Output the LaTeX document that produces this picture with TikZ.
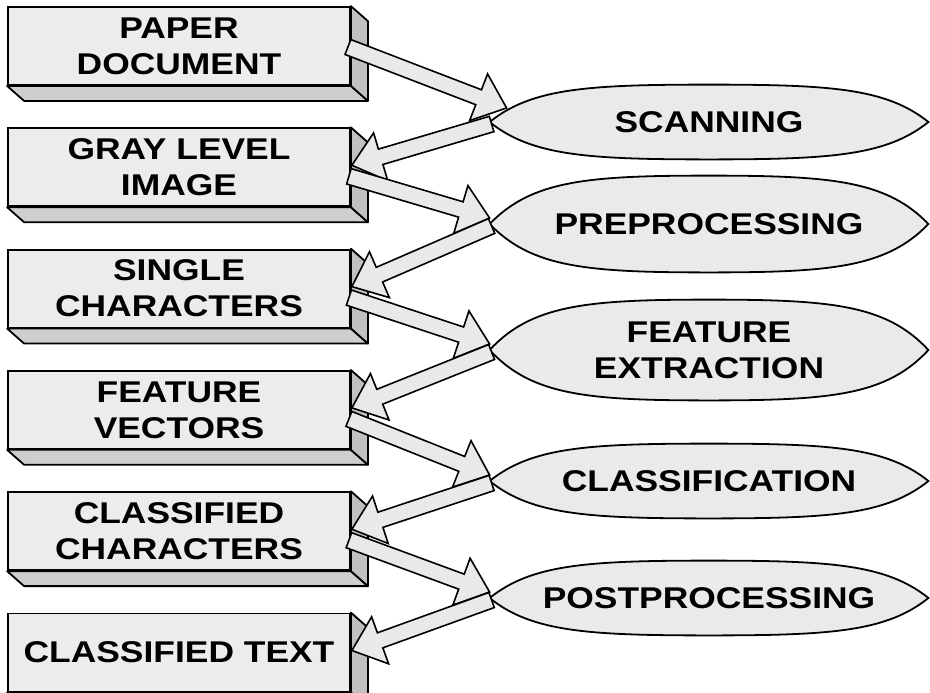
\documentclass[tikz,border=0pt]{standalone}
\usepackage{fontspec}
\newfontfamily\chartfont{Liberation Sans}[FakeStretch=1.18]
\usetikzlibrary{positioning,calc,backgrounds}
\definecolor{facelight}{RGB}{236,236,236}
\definecolor{facemid}  {RGB}{206,206,206}
\definecolor{facedark} {RGB}{192,192,192}
\definecolor{lensgray} {RGB}{234,234,234}
\definecolor{flowgray} {RGB}{233,233,233}

% hollow block arrow between two named points
\newcommand{\flowarrow}[2]{%
  \draw[flow] ($(#1)!4pt!90:(#2)$) -- ($(#2)!15pt!(#1)!4pt!-90:(#1)$)
    -- ($(#2)!15pt!(#1)!12.5pt!-90:(#1)$) -- (#2)
    -- ($(#2)!15pt!(#1)!12.5pt!90:(#1)$) -- ($(#2)!15pt!(#1)!4pt!90:(#1)$)
    -- ($(#1)!4pt!-90:(#2)$) -- cycle;}

\begin{document}
\begin{tikzpicture}[
    x=0.5pt, y=-0.5pt,
    node distance=20.75pt,
    stage/.style={draw, rectangle, fill=facelight, line width=0.9pt, minimum width=171pt, minimum height=39pt, inner sep=1pt, align=center, font=\chartfont\bfseries\fontsize{15}{18}\selectfont},
    task/.style={rectangle, minimum width=219pt, minimum height=37pt, inner sep=1pt, align=center, font=\chartfont\bfseries\fontsize{15}{18}\selectfont},
    lens/.style={draw, fill=lensgray, line width=0.9pt},
    bottomface/.style={draw, fill=facemid, line width=0.9pt, line join=round},
    sideface/.style={draw, fill=facedark, line width=0.9pt, line join=round},
    flow/.style={draw, fill=flowgray, line width=0.8pt, line join=miter}
]
    \useasboundingbox (0,0) rectangle (930,692);

    % data column
    \node[stage] (paper) at (179,46) {PAPER\\DOCUMENT};
    \node[stage] (gray) [below=of paper] {GRAY LEVEL\\IMAGE};
    \node[stage] (single) [below=of gray] {SINGLE\\CHARACTERS};
    \node[stage] (vectors) [below=of single] {FEATURE\\VECTORS};
    \node[stage] (classchars) [below=of vectors] {CLASSIFIED\\CHARACTERS};
    \node[stage] (cltext) [below=of classchars] {CLASSIFIED TEXT};

    % processing steps
    \node[task] (scan) at (709,122) {SCANNING};
    \node[task, minimum height=48pt] (prep) at (709,224) {PREPROCESSING};
    \node[task, minimum height=50pt] (feat) at (709,350) {FEATURE\\EXTRACTION};
    \node[task] (classify) at (709,481) {CLASSIFICATION};
    \node[task] (post) at (709,598) {POSTPROCESSING};

    \begin{scope}[on background layer]
        \foreach \b in {paper,gray,single,vectors,classchars,cltext} {
            \draw[bottomface] (\b.south west) -- ++(17,15) -- ($(\b.south east)+(17,15)$) -- (\b.south east) -- cycle;
            \draw[sideface] (\b.north east) -- ++(17,15) -- ($(\b.south east)+(17,15)$) -- (\b.south east) -- cycle;
        }
        \foreach \l in {scan,prep,feat,classify,post}
            \draw[lens] (\l.west) .. controls ($(\l.west)!.9!(\l.north west)+(42,0)$) and ($(\l.north)+(-122,0)$) .. (\l.north)
                .. controls ($(\l.north)+(122,0)$) and ($(\l.east)!.9!(\l.north east)+(-42,0)$) .. (\l.east)
                .. controls ($(\l.east)!.9!(\l.south east)+(-42,0)$) and ($(\l.south)+(122,0)$) .. (\l.south)
                .. controls ($(\l.south)+(-122,0)$) and ($(\l.west)!.9!(\l.south west)+(42,0)$) .. (\l.west) -- cycle;
    \end{scope}

    % arrow ends
    \coordinate (paper-out) at ($(paper.east)+(-3,1)$);
    \foreach \b in {gray,single,vectors,classchars,cltext} {
        \coordinate (\b-in) at ($(\b.east)+(1,-2)$);
        \coordinate (\b-out) at ($(\b.east)+(-2,9)$);
    }
    \coordinate (scan-in) at ($(scan.west)+(17,-14)$);
    \foreach \l in {prep,feat,classify,post}
        \coordinate (\l-in) at ($(\l.west)+(0,-6)$);
    \foreach \l in {scan,prep,feat,classify,post}
        \coordinate (\l-out) at ($(\l.west)+(2,2)$);

    \flowarrow{paper-out}{scan-in}
    \flowarrow{scan-out}{gray-in}
    \flowarrow{gray-out}{prep-in}
    \flowarrow{prep-out}{single-in}
    \flowarrow{single-out}{feat-in}
    \flowarrow{feat-out}{vectors-in}
    \flowarrow{vectors-out}{classify-in}
    \flowarrow{classify-out}{classchars-in}
    \flowarrow{classchars-out}{post-in}
    \flowarrow{post-out}{cltext-in}
\end{tikzpicture}
\end{document}
